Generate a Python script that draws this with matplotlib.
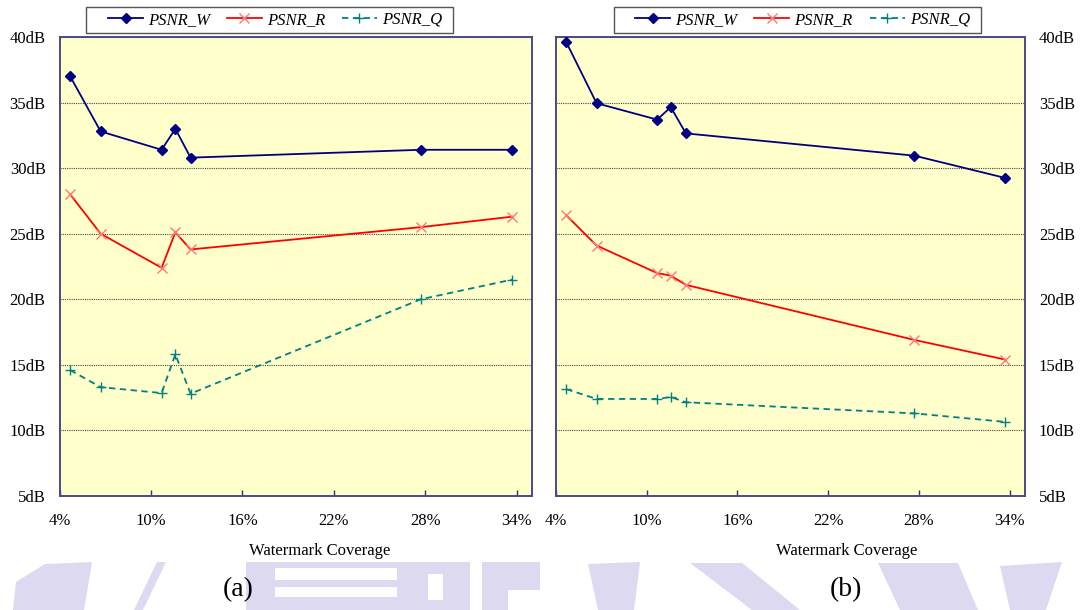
import matplotlib.pyplot as plt
from matplotlib.patches import Polygon, Rectangle

plt.rcParams['font.family'] = ['Liberation Serif', 'DejaVu Serif']

# watermark coverage (%) shared by both experiments
coverage = [4.7, 6.7, 10.7, 11.6, 12.6, 27.7, 33.7]

# experiment (a)
psnrWA = [37.0, 32.8, 31.4, 33.0, 30.8, 31.4, 31.4]
psnrRA = [28.0, 25.0, 22.4, 25.1, 23.8, 25.5, 26.3]
psnrQA = [14.6, 13.3, 12.85, 15.8, 12.8, 20.0, 21.5]

# experiment (b)
psnrWB = [39.6, 34.95, 33.7, 34.65, 32.65, 30.95, 29.25]
psnrRB = [26.4, 24.1, 22.0, 21.8, 21.1, 16.9, 15.4]
psnrQB = [13.15, 12.4, 12.4, 12.55, 12.15, 11.3, 10.65]

xTicks = [4, 10, 16, 22, 28, 34]
yTicks = [5, 10, 15, 20, 25, 30, 35, 40]
seriesNames = ['PSNR_W', 'PSNR_R', 'PSNR_Q']
panelLabels = ['(a)', '(b)']

W, H = 1081, 610


def px(x, y):
    # pixel position (origin top-left) -> figure fraction
    return (x / W, 1 - y / H)


def drawPanel(ax, w, r, q, rightTicks=False):
    ax.set_facecolor('#ffffcc')
    ax.set_axisbelow(True)

    lineW, = ax.plot(coverage, w, color='#000080', lw=1.3, marker='D',
                     markersize=5.5, label=seriesNames[0], zorder=3)
    lineR, = ax.plot(coverage, r, color='#ff0000', lw=1.3, marker='x',
                     markersize=7, markeredgecolor='#ff7777',
                     markeredgewidth=1.0, label=seriesNames[1], zorder=3)
    lineQ, = ax.plot(coverage, q, color='#008080', lw=1.3,
                     linestyle=(0, (3.5, 2.5)), marker='+', markersize=7,
                     markeredgewidth=1.0, label=seriesNames[2], zorder=3)

    ax.set_xlim(4, 35)
    ax.set_ylim(5, 40)
    ax.set_xticks(xTicks)
    ax.set_xticklabels([f'{t}%' for t in xTicks], fontsize=12)
    ax.set_yticks(yTicks)
    ax.set_yticklabels([f'{t}dB' for t in yTicks], fontsize=12)
    ax.tick_params(axis='x', direction='in', length=4, width=1,
                   color='#333366', pad=12)
    ax.tick_params(axis='y', length=0, pad=10)
    if rightTicks:
        ax.yaxis.tick_right()
        ax.tick_params(axis='y', length=0, pad=10)

    ax.grid(axis='y', linestyle=(0, (1, 1)), color='#444444', lw=0.8)
    for spine in ax.spines.values():
        spine.set_color('#4a4a8c')
        spine.set_linewidth(1.4)

    return [lineW, lineR, lineQ]


fig = plt.figure(figsize=(W / 100, H / 100), dpi=100)

# faint banner shapes along the bottom edge
bannerColor = '#dcd9f0'
shapes = [
    [(13, 610), (16, 582), (45, 564), (92, 562), (84, 610)],
    [(134, 610), (157, 562), (166, 562), (143, 610)],
    [(246, 562), (470, 562), (470, 610), (246, 610)],
    [(482, 562), (540, 562), (540, 610), (482, 610)],
    [(588, 564), (640, 562), (634, 610), (598, 610)],
    [(690, 563), (742, 563), (800, 610), (752, 610)],
    [(878, 563), (958, 563), (978, 610), (900, 610)],
    [(1000, 566), (1062, 562), (1046, 610), (1010, 610)],
]
for pts in shapes:
    fig.patches.append(Polygon([px(x, y) for x, y in pts], closed=True,
                               transform=fig.transFigure, color=bannerColor,
                               lw=0, zorder=0))
# white cut-outs in the banner blocks
for x0, y0, x1, y1 in [(275, 568, 397, 580), (275, 587, 397, 597),
                       (428, 574, 443, 600), (508, 590, 540, 610)]:
    fx0, fy1 = px(x0, y1)
    fig.patches.append(Rectangle((fx0, fy1), (x1 - x0) / W, (y1 - y0) / H,
                                 transform=fig.transFigure, color='white',
                                 lw=0, zorder=0))

left0, left1 = px(59.5, 496), px(532, 37)
right0, right1 = px(555.7, 496), px(1025, 37)
axA = fig.add_axes([left0[0], left0[1], left1[0] - left0[0], left1[1] - left0[1]])
axB = fig.add_axes([right0[0], right0[1], right1[0] - right0[0], right1[1] - right0[1]])

handlesA = drawPanel(axA, psnrWA, psnrRA, psnrQA)
handlesB = drawPanel(axB, psnrWB, psnrRB, psnrQB, rightTicks=True)

# legends: boxed strip above each panel, entries spread across it
legendProps = dict(family='Liberation Serif', style='italic', size=12)
legendSpots = [(handlesA, (86, 453), (108, 442)),
               (handlesB, (614, 981), (635, 970))]
for handles, (boxL, boxR), (inL, inR) in legendSpots:
    bx, by = px(boxL, 33)
    fig.patches.append(Rectangle((bx, by), (boxR - boxL) / W, 26 / H,
                                 transform=fig.transFigure, facecolor='white',
                                 edgecolor='#555555', lw=1.0, zorder=1))
    ix, iy = px(inL, 33)
    leg = fig.legend(handles, seriesNames, loc='center',
                     bbox_to_anchor=(ix, iy, (inR - inL) / W, 26 / H),
                     mode='expand', ncol=3, prop=legendProps, frameon=False,
                     borderaxespad=0, borderpad=0, handlelength=2.1,
                     handletextpad=0.3)
    leg.set_zorder(2)

# axis titles and panel captions
for cx in (320, 847):
    fig.text(*px(cx, 551), 'Watermark Coverage', fontsize=12,
             ha='center', va='center')
for cx, label in zip((238, 846), panelLabels):
    fig.text(*px(cx, 590), label, fontsize=20, ha='center', va='center')

fig.savefig('out.png', dpi=100)
